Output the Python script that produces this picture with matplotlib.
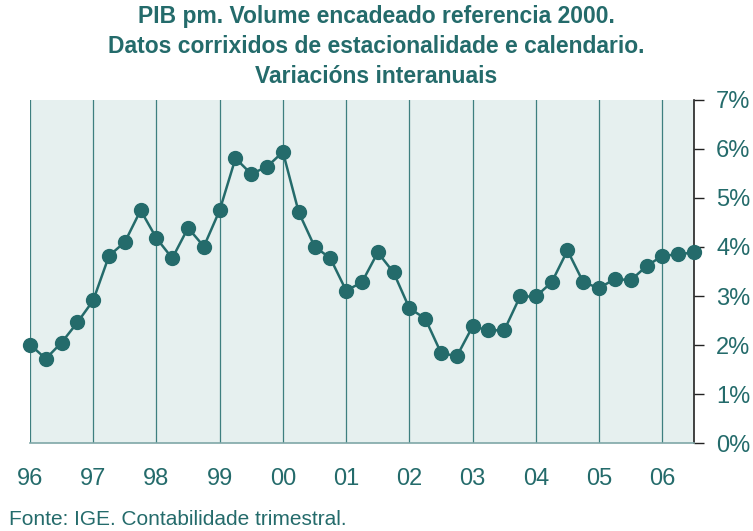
import matplotlib
matplotlib.use("Agg")
import matplotlib.pyplot as plt
from matplotlib.ticker import FixedLocator

years = ["96", "97", "98", "99", "00", "01", "02", "03", "04", "05", "06"]
values = [2.01, 1.72, 2.05, 2.46,
          2.91, 3.82, 4.10, 4.75,
          4.18, 3.77, 4.39, 4.01,
          4.75, 5.81, 5.49, 5.64,
          5.94, 4.71, 4.01, 3.77,
          3.11, 3.28, 3.89, 3.48,
          2.75, 2.54, 1.84, 1.77,
          2.38, 2.30, 2.30, 2.99,
          2.99, 3.28, 3.93, 3.28,
          3.16, 3.35, 3.32, 3.61,
          3.82, 3.85, 3.89]
yticks = [0, 1, 2, 3, 4, 5, 6, 7]

TEAL = "#246B6B"
BG = "#E6F0EF"
plt.rcParams['font.family'] = ['Liberation Sans', 'DejaVu Sans']

fig = plt.figure(figsize=(7.53, 5.31), dpi=100)
ax = fig.add_axes([0.0398, 0.1657, 0.9216 - 0.0398, 0.8117 - 0.1657])
ax.set_facecolor(BG)

x = list(range(len(values)))
year_pos = [4 * i for i in range(len(years))]
for p in year_pos:
    ax.axvline(p, color="#3E7F7F", lw=0.9, zorder=1)

ax.plot(x, values, color=TEAL, lw=1.8, marker="o", markersize=10,
        markerfacecolor=TEAL, markeredgecolor=TEAL, zorder=3, clip_on=False)

ax.set_xlim(0, len(values) - 1)
ax.set_ylim(0, 7)
ax.xaxis.set_major_locator(FixedLocator(year_pos))
ax.set_xticklabels(years)
ax.tick_params(axis="x", length=0, pad=18, labelsize=17, labelcolor=TEAL)
ax.yaxis.tick_right()
ax.set_yticks(yticks)
ax.set_yticklabels([f"{v}%" for v in yticks])
ax.tick_params(axis="y", direction="out", length=7, width=1, color="#222222",
               pad=9, labelsize=17, labelcolor=TEAL)
for s in ["left", "top"]:
    ax.spines[s].set_visible(False)
ax.spines["right"].set_color("#222222")
ax.spines["right"].set_linewidth(1.2)
ax.spines["bottom"].set_color("#7FA7A7")
ax.spines["bottom"].set_linewidth(1.2)

fig.text(0.5, 0.99, "PIB pm. Volume encadeado referencia 2000.\nDatos corrixidos de estacionalidade e calendario.\nVariacións interanuais",
         ha="center", va="top", fontsize=16.5, fontweight="bold", color=TEAL, linespacing=1.38)
fig.text(0.012, 0.004, "Fonte: IGE. Contabilidade trimestral.", ha="left", va="bottom",
         fontsize=15, color=TEAL)

fig.savefig("out.png", dpi=100)
